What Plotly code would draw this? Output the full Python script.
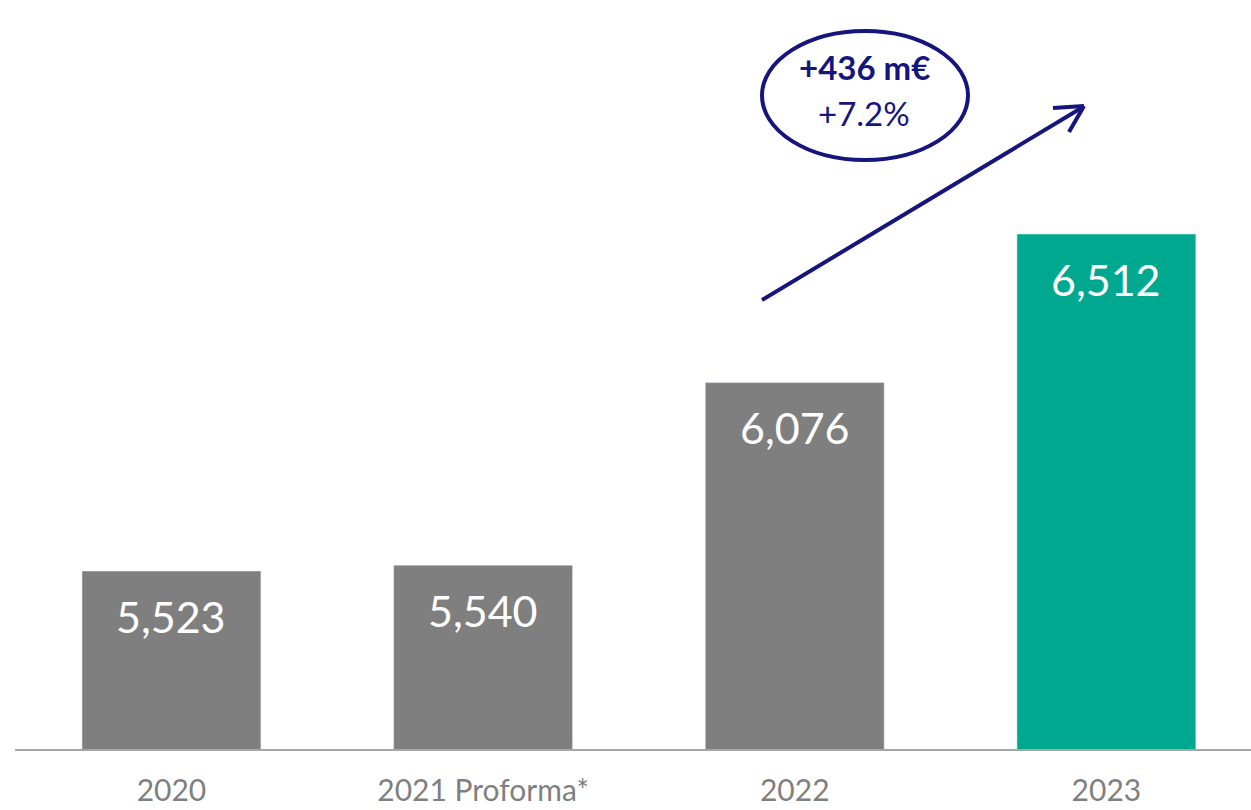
import plotly.graph_objects as go

categories = ["2020", "2021 Proforma*", "2022", "2023"]
values = [5523, 5540, 6076, 6512]
labels = ["5,523", "5,540", "6,076", "6,512"]
bar_colors = ["#7f7f7f", "#7f7f7f", "#7f7f7f", "#00a88f"]
bubble_main = "+436 m€"
bubble_sub = "+7.2%"

NAVY = "#15157d"
FONT = "Lato"
W, H = 1251, 810
ML, MR, MT, MB = 15, 0, 0, 61
PW, PH = W - ML - MR, H - MT - MB


def px(x):
    return (x - ML) / PW


def py(y):
    return 1 - (y - MT) / PH


fig = go.Figure()
fig.add_trace(go.Bar(
    x=categories, y=values, marker_color=bar_colors, width=0.574,
    hoverinfo="skip",
))

for i, (v, t) in enumerate(zip(values, labels)):
    fig.add_annotation(x=i, y=v, text=t, showarrow=False, xanchor="center", yanchor="middle",
                       yshift=-45, font=dict(family=FONT, size=43, color="white"))

# bubble
fig.add_shape(type="circle", xref="paper", yref="paper",
              x0=px(762), x1=px(968), y0=py(160), y1=py(31),
              line=dict(color=NAVY, width=4), fillcolor="white")
fig.add_annotation(xref="paper", yref="paper", x=px(864), y=py(67), text="<b>" + bubble_main + "</b>",
                   showarrow=False, xanchor="center", yanchor="middle",
                   font=dict(family=FONT, size=33, color=NAVY))
fig.add_annotation(xref="paper", yref="paper", x=px(864), y=py(113), text=bubble_sub,
                   showarrow=False, xanchor="center", yanchor="middle",
                   font=dict(family=FONT, size=33, color=NAVY))

# arrow
for (x0, y0, x1, y1) in [(762, 300, 1083, 107), (1053, 108, 1084, 106), (1069, 132, 1084, 106)]:
    fig.add_shape(type="line", xref="paper", yref="paper",
                  x0=px(x0), y0=py(y0), x1=px(x1), y1=py(y1),
                  line=dict(color=NAVY, width=4))

fig.update_layout(
    width=W, height=H,
    margin=dict(l=ML, r=MR, t=MT, b=MB),
    plot_bgcolor="white", paper_bgcolor="white",
    showlegend=False,
    xaxis=dict(type="category", range=[-0.502, 3.464], showgrid=False, zeroline=False,
               automargin=False,
               showline=True, linecolor="#a6a6a6", linewidth=2,
               ticks="outside", ticklen=14, tickcolor="rgba(0,0,0,0)",
               tickfont=dict(family=FONT, size=30, color="#7f7f7f")),
    yaxis=dict(range=[5000.6, 7198.8], visible=False, automargin=False),
)

fig.write_html("out.html", config={"displayModeBar": False},
               post_script="document.body.style.margin='0';document.body.style.overflow='hidden';")
